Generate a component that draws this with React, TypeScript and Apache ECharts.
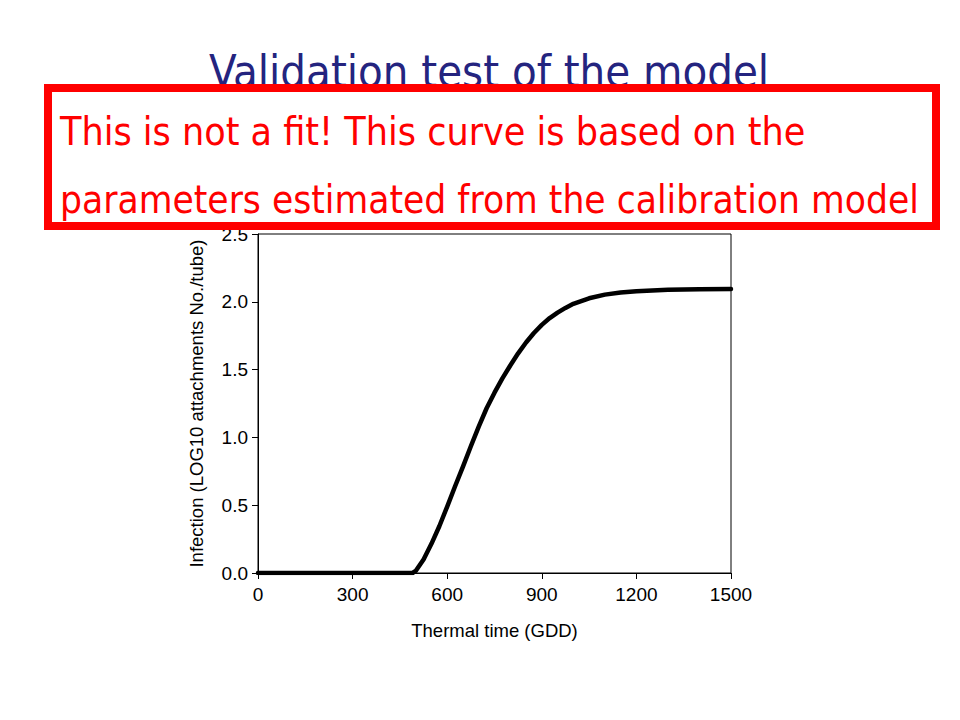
import React, { useEffect, useRef } from "react";
import * as echarts from "echarts";

const thermalTime = [0, 100, 200, 300, 400, 450, 490, 500, 525, 550, 575, 600, 625, 650, 675, 700, 725, 750, 775, 800, 825, 850, 875, 900, 925, 950, 975, 1000, 1050, 1100, 1150, 1200, 1300, 1400, 1500];
const infection = [0, 0, 0, 0, 0, 0, 0, 0.015, 0.1, 0.215, 0.345, 0.49, 0.64, 0.785, 0.935, 1.08, 1.215, 1.33, 1.435, 1.53, 1.62, 1.7, 1.77, 1.83, 1.88, 1.92, 1.955, 1.985, 2.026, 2.053, 2.068, 2.078, 2.088, 2.093, 2.095];
const yTicks = [0, 0.5, 1, 1.5, 2, 2.5];
const xTicks = [0, 300, 600, 900, 1200, 1500];

const titleText = "Validation test of the model";
const noteLine1 = "This is not a fit! This curve is based on the";
const noteLine2 = "parameters estimated from the calibration model";

export default function App() {
  const ref = useRef<HTMLDivElement>(null);
  useEffect(() => {
    if (!ref.current) return;
    const chart = echarts.init(ref.current, undefined, { renderer: "svg" });
    const data = thermalTime.map((t, i) => [t, infection[i]]);
    chart.setOption({
      animation: false,
      backgroundColor: "#ffffff",
      grid: {
        left: 258,
        right: 229,
        top: 234,
        bottom: 147,
        show: true,
        borderColor: "#000",
        borderWidth: 1,
        backgroundColor: "transparent",
      },
      xAxis: {
        type: "value",
        min: xTicks[0],
        max: xTicks[xTicks.length - 1],
        interval: 300,
        name: "Thermal time (GDD)",
        nameLocation: "middle",
        nameGap: 48,
        nameTextStyle: { fontFamily: "Liberation Sans", fontSize: 18.5, color: "#000" },
        axisLine: { show: true, lineStyle: { color: "#000", width: 1 } },
        axisTick: { show: true, inside: false, length: 6, lineStyle: { color: "#000" } },
        axisLabel: {
          fontFamily: "Liberation Sans",
          fontSize: 19,
          color: "#000",
          margin: 12,
          formatter: (v: number) => String(v),
        },
        splitLine: { show: false },
      },
      yAxis: {
        type: "value",
        min: yTicks[0],
        max: yTicks[yTicks.length - 1],
        interval: 0.5,
        name: "Infection (LOG10 attachments No./tube)",
        nameLocation: "middle",
        nameGap: 52,
        nameTextStyle: { fontFamily: "Liberation Sans", fontSize: 18.5, color: "#000" },
        axisLine: { show: true, lineStyle: { color: "#000", width: 1 } },
        axisTick: { show: true, inside: false, length: 6, lineStyle: { color: "#000" } },
        axisLabel: {
          fontFamily: "Liberation Sans",
          fontSize: 19,
          color: "#000",
          margin: 10,
          formatter: (v: number) => v.toFixed(1),
        },
        splitLine: { show: false },
      },
      series: [
        {
          type: "line",
          data,
          showSymbol: false,
          smooth: false,
          lineStyle: { color: "#000", width: 4.5, join: "round", cap: "round" },
          z: 3,
        },
      ],
      graphic: [
        {
          type: "text",
          x: 489,
          y: 49,
          z: 50,
          style: {
            text: titleText,
            fontFamily: "DejaVu Sans Condensed",
            fontSize: 45,
            fill: "#24247f",
            align: "center",
            verticalAlign: "top",
          },
        },
        {
          type: "rect",
          z: 100,
          shape: { x: 48, y: 88, width: 888, height: 138 },
          style: { fill: "#ffffff", stroke: "#ff0000", lineWidth: 8 },
        },
        {
          type: "text",
          z: 101,
          x: 60,
          y: 131,
          style: {
            text: noteLine1,
            fontFamily: "DejaVu Sans Condensed",
            fontSize: 39,
            fill: "#ff0000",
            verticalAlign: "middle",
            align: "left",
          },
        },
        {
          type: "text",
          z: 101,
          x: 60,
          y: 199,
          style: {
            text: noteLine2,
            fontFamily: "DejaVu Sans Condensed",
            fontSize: 38.5,
            fill: "#ff0000",
            verticalAlign: "middle",
            align: "left",
          },
        },
      ],
    });
    return () => chart.dispose();
  }, []);
  return (
    <div
      ref={ref}
      style={{ position: "fixed", left: 0, top: 0, width: 960, height: 720, background: "#fff" }}
    />
  );
}
